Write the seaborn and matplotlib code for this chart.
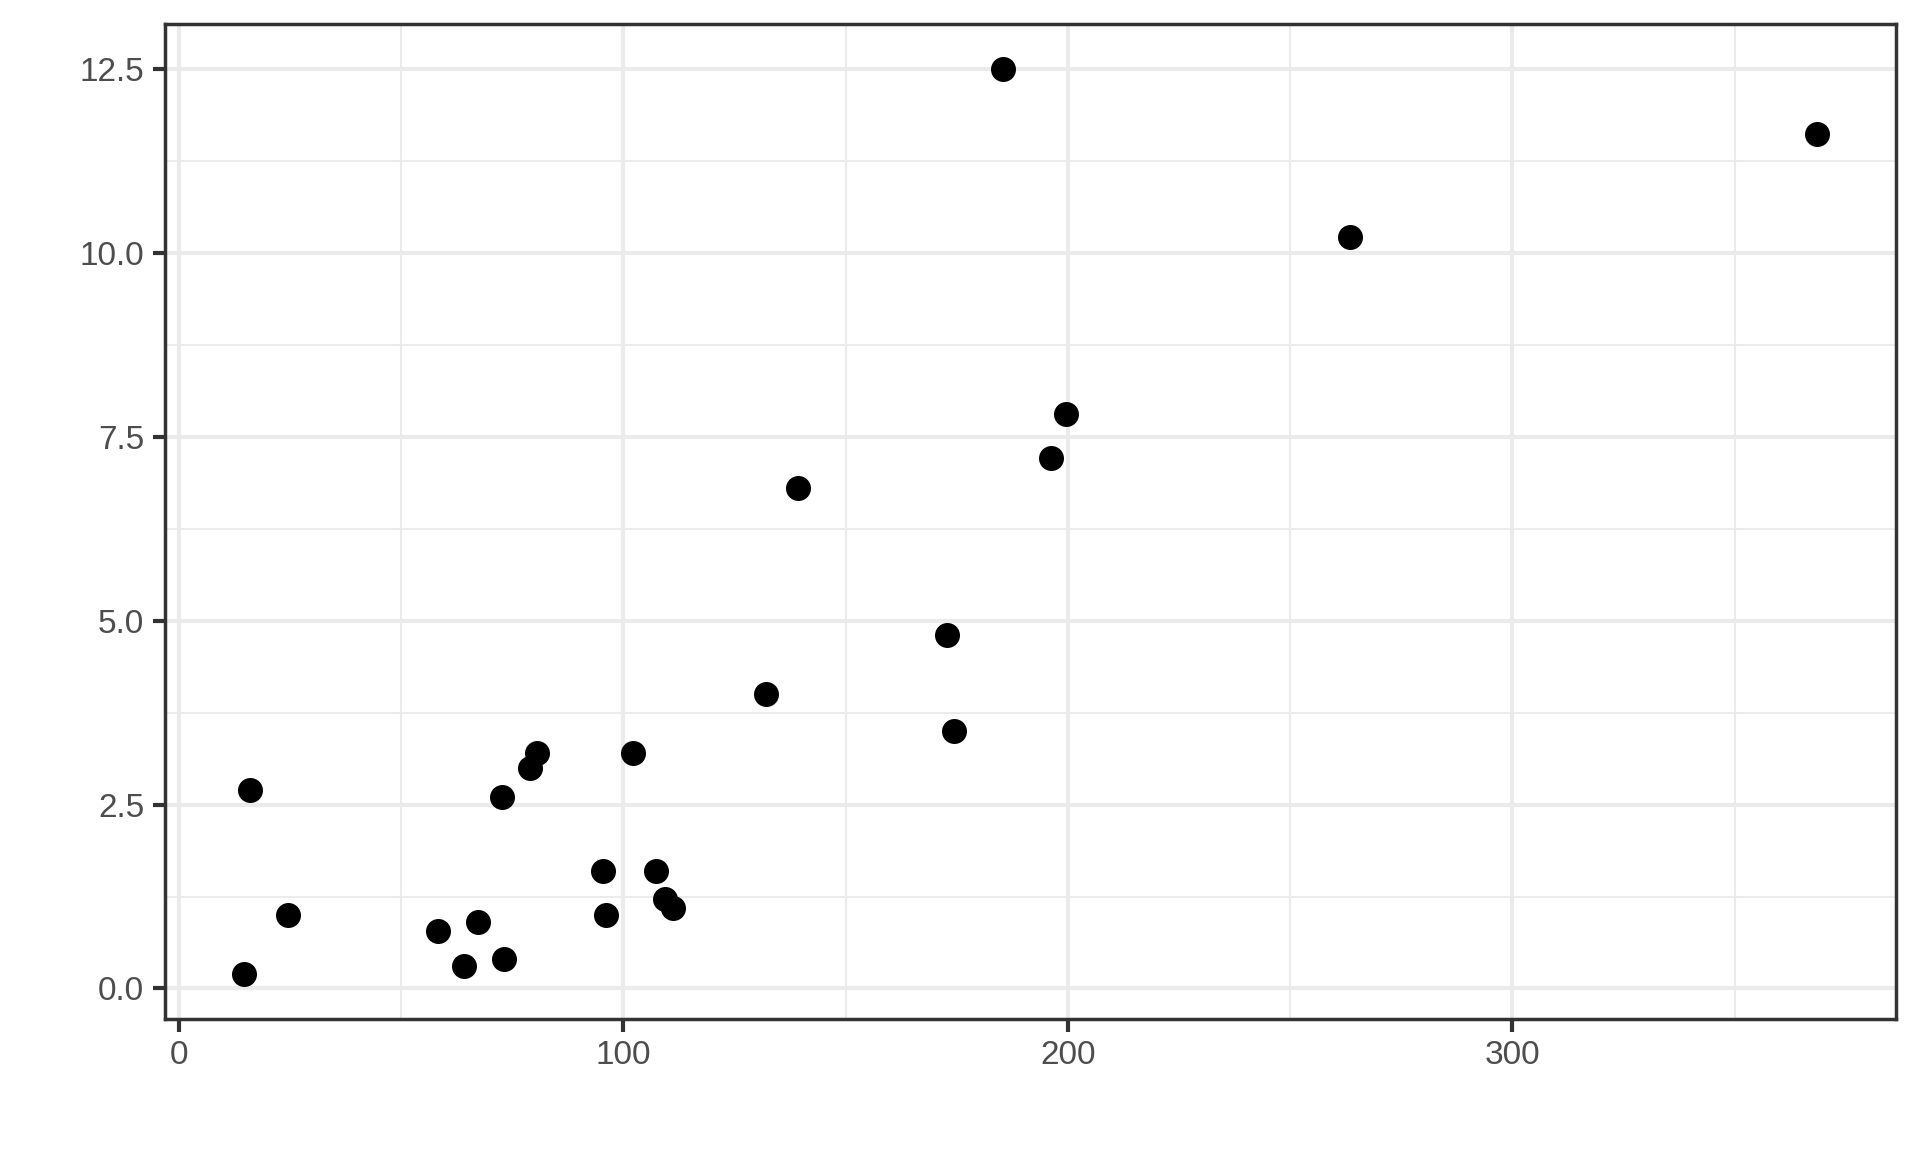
import pandas as pd
import seaborn as sns
import matplotlib.pyplot as plt
from matplotlib.ticker import MultipleLocator

# values
x_vals = [185.5, 368.6, 263.4, 199.6, 196.3, 139.3, 172.9, 132.1, 174.5, 16.0,
          80.6, 79.0, 102.1, 72.7, 95.5, 107.3, 109.3, 111.2, 96.1, 24.5,
          67.2, 58.4, 64.1, 73.2, 14.6]
y_vals = [12.5, 11.62, 10.22, 7.81, 7.21, 6.81, 4.81, 4.01, 3.50, 2.70,
          3.20, 3.00, 3.20, 2.60, 1.60, 1.60, 1.22, 1.10, 1.00, 1.00,
          0.90, 0.78, 0.30, 0.40, 0.20]
x_ticks = [0, 100, 200, 300]
y_ticks = [0.0, 2.5, 5.0, 7.5, 10.0, 12.5]

df = pd.DataFrame({"x": x_vals, "y": y_vals})

sns.set_style("white")
plt.rcParams['font.family'] = ['Liberation Sans', 'DejaVu Sans']

fig = plt.figure(figsize=(19.2, 11.52), dpi=100)
ax = fig.add_axes([165 / 1920, 133 / 1152, (1896 - 165) / 1920, (1019 - 24) / 1152])

sns.scatterplot(data=df, x="x", y="y", ax=ax, color="black", marker="o",
                s=324, linewidth=0, zorder=3)

# ggplot-style 5% padding
xr = max(x_vals) - min(x_vals)
yr = max(y_vals) - min(y_vals)
ax.set_xlim(min(x_vals) - 0.05 * xr, max(x_vals) + 0.05 * xr)
ax.set_ylim(min(y_vals) - 0.05 * yr, max(y_vals) + 0.05 * yr)

ax.set_xticks(x_ticks)
ax.set_yticks(y_ticks)
ax.set_yticklabels([f"{v:.1f}" for v in y_ticks])
ax.xaxis.set_minor_locator(MultipleLocator(50))
ax.yaxis.set_minor_locator(MultipleLocator(1.25))

ax.grid(which="major", color="#EBEBEB", linewidth=3)
ax.grid(which="minor", color="#EBEBEB", linewidth=1.5)
ax.set_axisbelow(True)

ax.tick_params(which="major", length=9, width=3, color="#333333",
               labelsize=24, labelcolor="#4D4D4D", pad=6,
               bottom=True, left=True)
ax.tick_params(which="minor", length=0)
for s in ax.spines.values():
    s.set_color("#333333")
    s.set_linewidth(2.5)

ax.set_xlabel("")
ax.set_ylabel("")

plt.savefig("out.png", dpi=100)
